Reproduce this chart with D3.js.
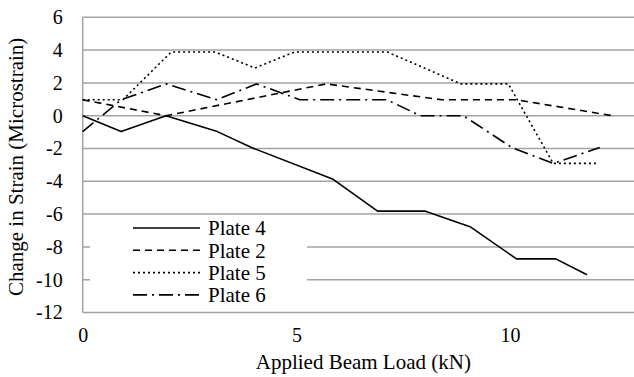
<!DOCTYPE html>
<html>
<head>
<meta charset="utf-8">
<script src="https://cdn.jsdelivr.net/npm/d3@7/dist/d3.min.js"></script>
<style>
  body { margin: 0; background: #fff; }
  text { font-family: "Liberation Serif", "Times New Roman", serif; fill: #000; }
</style>
</head>
<body>
<svg id="chart" width="634" height="377"></svg>
<script>
// values (load in kN, change in microstrain)
var plate4X = [0, 0.9, 1.95, 3.15, 3.95, 5.86, 6.9, 8.02, 9.08, 10.15, 11.07, 11.8];
var plate4Y = [0, -0.97, 0, -0.97, -1.94, -3.88, -5.82, -5.82, -6.79, -8.73, -8.73, -9.7];
var plate2X = [0, 1.95, 5.7, 8.4, 10.15, 12.4];
var plate2Y = [0.97, 0, 1.94, 0.97, 0.97, 0];
var plate5X = [0, 0.94, 2.07, 3.1, 4.03, 4.95, 7.13, 8.85, 9.96, 11.01, 12.02];
var plate5Y = [0.97, 0.97, 3.88, 3.88, 2.91, 3.88, 3.88, 1.94, 1.94, -2.91, -2.91];
var plate6X = [0, 0.9, 1.96, 3.13, 4.07, 5.08, 7.12, 7.9, 8.91, 10.04, 11.01, 12.1];
var plate6Y = [-0.97, 0.97, 1.94, 0.97, 1.94, 0.97, 0.97, 0, 0, -1.94, -2.91, -1.94];

var seriesNames = ['Plate 4', 'Plate 2', 'Plate 5', 'Plate 6'];
var xTicks = [0, 5, 10];
var yTicks = [6, 4, 2, 0, -2, -4, -6, -8, -10, -12];

var dashes = {'Plate 4': null, 'Plate 2': '7,5', 'Plate 5': '2,3', 'Plate 6': '14,5,2,5'};

function zip(xs, ys) {
  return xs.map((x, i) => ({x: x, y: ys[i]}));
}

var series = [
  {name: 'Plate 4', points: zip(plate4X, plate4Y)},
  {name: 'Plate 2', points: zip(plate2X, plate2Y)},
  {name: 'Plate 5', points: zip(plate5X, plate5Y)},
  {name: 'Plate 6', points: zip(plate6X, plate6Y)}
];

var svg = d3.select('#chart');
var x = d3.scaleLinear().domain([0, 12.9]).range([82.7, 634]);
var y = d3.scaleLinear().domain([-12, 6]).range([312.5, 17.3]);

// horizontal gridlines
svg.append('g').selectAll('line')
  .data(yTicks)
  .enter().append('line')
    .attr('x1', x(0)).attr('x2', 634)
    .attr('y1', d => y(d)).attr('y2', d => y(d))
    .attr('stroke', '#a3a3a3')
    .attr('stroke-width', 1.5);

// vertical axis line
svg.append('line')
  .attr('x1', x(0)).attr('x2', x(0))
  .attr('y1', y(6)).attr('y2', y(-12))
  .attr('stroke', '#a3a3a3')
  .attr('stroke-width', 1.5);

// tick labels, plain hyphen for negatives like the original
var plain = d => String(d);
var yAxis = svg.append('g')
  .attr('transform', 'translate(' + x(0) + ',0)')
  .call(d3.axisLeft(y).tickValues(yTicks).tickFormat(plain).tickSize(0).tickPadding(20));
var xAxis = svg.append('g')
  .attr('transform', 'translate(0,' + y(-12) + ')')
  .call(d3.axisBottom(x).tickValues(xTicks).tickFormat(plain).tickSize(0).tickPadding(15));
[yAxis, xAxis].forEach(function(ax) {
  ax.select('.domain').remove();
  ax.selectAll('text')
    .attr('font-family', '"Liberation Serif", serif')
    .attr('font-size', 20)
    .attr('fill', '#000');
});

// series lines
var line = d3.line().x(d => x(d.x)).y(d => y(d.y));
svg.append('g').selectAll('path')
  .data(series)
  .enter().append('path')
    .attr('d', d => line(d.points))
    .attr('fill', 'none')
    .attr('stroke', '#000')
    .attr('stroke-width', 1.6)
    .attr('stroke-linejoin', 'round')
    .attr('stroke-dasharray', d => dashes[d.name]);

// legend (white box hides the gridlines behind it)
var legend = svg.append('g');
legend.append('rect')
  .attr('x', 90).attr('y', 216)
  .attr('width', 217).attr('height', 91)
  .attr('fill', '#fff');
var rows = legend.selectAll('.row')
  .data(seriesNames)
  .enter().append('g')
    .attr('class', 'row')
    .attr('transform', (d, i) => 'translate(0,' + (228 + i * 22.3) + ')');
rows.append('line')
  .attr('x1', 133).attr('x2', 200)
  .attr('stroke', '#000')
  .attr('stroke-width', 1.6)
  .attr('stroke-dasharray', d => dashes[d]);
rows.append('text')
  .attr('x', 208)
  .attr('dy', '0.35em')
  .attr('font-size', 21)
  .text(d => d);

// axis titles
svg.append('text')
  .attr('x', (x(0) + 634) / 2 + 5)
  .attr('y', 369)
  .attr('text-anchor', 'middle')
  .attr('font-size', 21)
  .text('Applied Beam Load (kN)');
svg.append('text')
  .attr('transform', 'translate(23,' + ((y(6) + y(-12)) / 2 + 2) + ') rotate(-90)')
  .attr('text-anchor', 'middle')
  .attr('font-size', 21)
  .text('Change in Strain (Microstrain)');
</script>
</body>
</html>
